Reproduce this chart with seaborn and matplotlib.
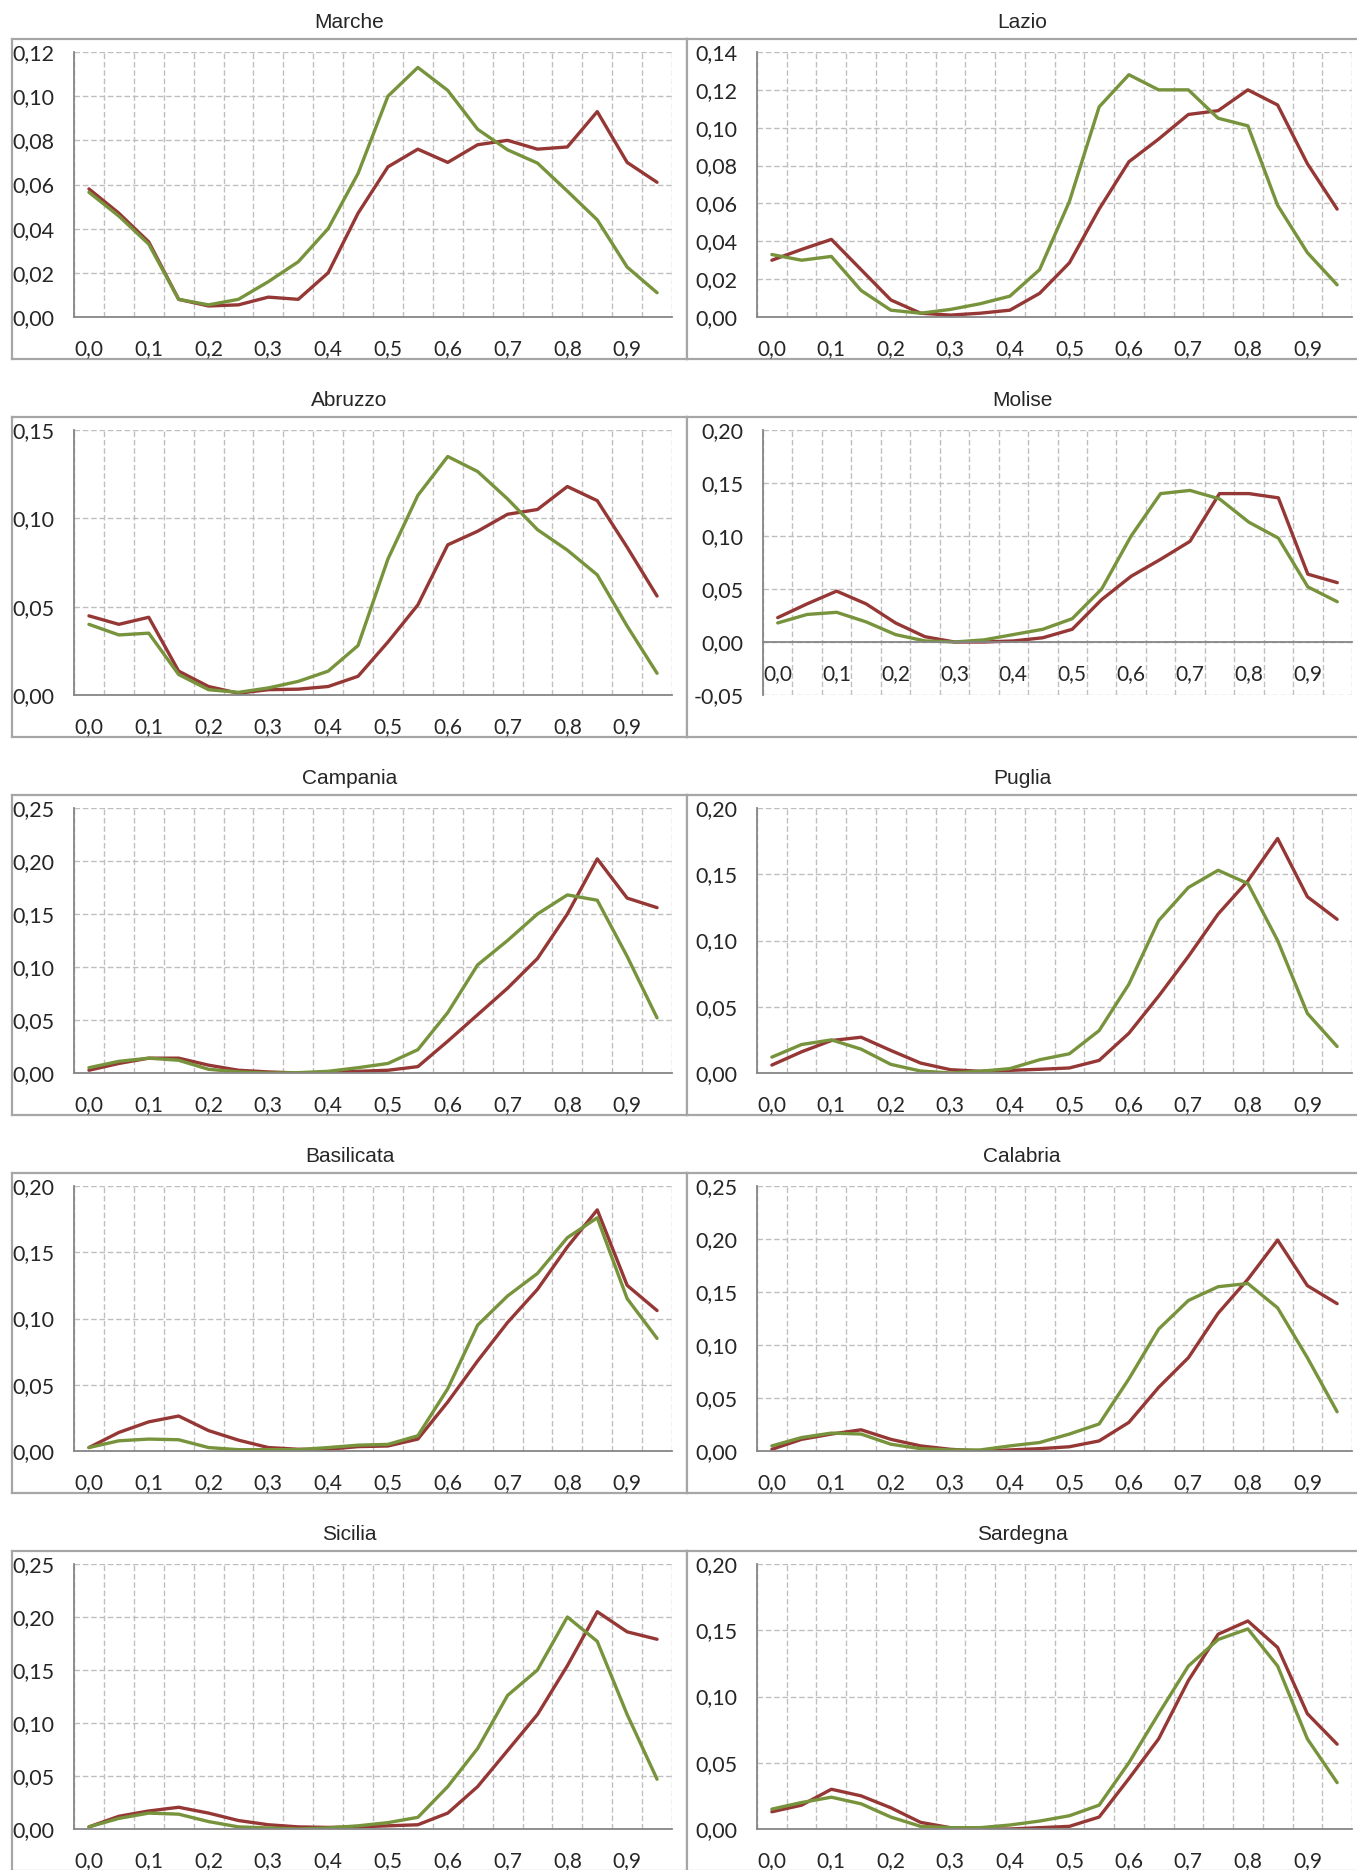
import pandas as pd
import seaborn as sns
import matplotlib
matplotlib.use('Agg')
import matplotlib.pyplot as plt

# categories on the x axis (step 0,05) and the labels shown every other one
x_vals = [0.00, 0.05, 0.10, 0.15, 0.20, 0.25, 0.30, 0.35, 0.40, 0.45,
          0.50, 0.55, 0.60, 0.65, 0.70, 0.75, 0.80, 0.85, 0.90, 0.95]
x_ticks = [0.0, 0.1, 0.2, 0.3, 0.4, 0.5, 0.6, 0.7, 0.8, 0.9]
x_labels = ['0,0', '0,1', '0,2', '0,3', '0,4', '0,5', '0,6', '0,7', '0,8', '0,9']

# series (red = first series, green = second)
marche_red = [0.058, 0.047, 0.034, 0.008, 0.005, 0.0055, 0.009, 0.008, 0.020, 0.047,
              0.068, 0.076, 0.070, 0.078, 0.080, 0.076, 0.077, 0.093, 0.070, 0.061]
marche_green = [0.0565, 0.0457, 0.033, 0.008, 0.0055, 0.008, 0.016, 0.025, 0.040, 0.065,
                0.100, 0.113, 0.1026, 0.085, 0.0757, 0.0697, 0.057, 0.044, 0.0226, 0.011]
lazio_red = [0.030, 0.0357, 0.041, 0.025, 0.009, 0.002, 0.001, 0.002, 0.0036, 0.0125,
             0.0286, 0.057, 0.082, 0.094, 0.107, 0.109, 0.120, 0.112, 0.081, 0.057]
lazio_green = [0.033, 0.030, 0.032, 0.014, 0.0036, 0.002, 0.004, 0.007, 0.011, 0.025,
               0.061, 0.111, 0.128, 0.120, 0.120, 0.105, 0.101, 0.059, 0.034, 0.017]
abruzzo_red = [0.0448, 0.040, 0.044, 0.0135, 0.0048, 0.001, 0.003, 0.0033, 0.0048, 0.0106,
               0.030, 0.051, 0.085, 0.0927, 0.1023, 0.105, 0.118, 0.110, 0.0836, 0.056]
abruzzo_green = [0.040, 0.034, 0.035, 0.0116, 0.003, 0.0015, 0.004, 0.0077, 0.0135, 0.028,
                 0.077, 0.113, 0.135, 0.1265, 0.111, 0.0936, 0.082, 0.068, 0.039, 0.0123]
molise_red = [0.023, 0.036, 0.048, 0.036, 0.018, 0.005, 0.000, 0.000, 0.001, 0.004,
              0.012, 0.040, 0.062, 0.078, 0.095, 0.140, 0.140, 0.136, 0.064, 0.056]
molise_green = [0.018, 0.026, 0.028, 0.019, 0.007, 0.001, 0.000, 0.002, 0.007, 0.012,
                0.022, 0.050, 0.100, 0.140, 0.143, 0.135, 0.113, 0.098, 0.052, 0.038]
campania_red = [0.0026, 0.009, 0.014, 0.014, 0.0074, 0.0026, 0.001, 0.000, 0.0006, 0.0016,
                0.0026, 0.006, 0.030, 0.055, 0.080, 0.108, 0.150, 0.202, 0.165, 0.156]
campania_green = [0.005, 0.011, 0.014, 0.012, 0.0035, 0.001, 0.000, 0.0003, 0.0016, 0.005,
                  0.009, 0.022, 0.057, 0.102, 0.125, 0.150, 0.168, 0.163, 0.110, 0.052]
puglia_red = [0.006, 0.016, 0.0245, 0.027, 0.017, 0.0075, 0.0025, 0.0013, 0.002, 0.0028,
              0.0038, 0.0095, 0.030, 0.058, 0.088, 0.120, 0.145, 0.177, 0.133, 0.116]
puglia_green = [0.012, 0.0215, 0.025, 0.018, 0.0065, 0.0015, 0.000, 0.0013, 0.0033, 0.010,
                0.0145, 0.032, 0.067, 0.115, 0.140, 0.153, 0.143, 0.100, 0.045, 0.020]
basilicata_red = [0.0026, 0.014, 0.022, 0.0264, 0.0154, 0.0082, 0.0026, 0.0013, 0.0013, 0.0033,
                  0.0038, 0.009, 0.037, 0.068, 0.097, 0.122, 0.154, 0.182, 0.125, 0.106]
basilicata_green = [0.0026, 0.0077, 0.009, 0.0085, 0.0026, 0.001, 0.001, 0.001, 0.0026, 0.0044,
                    0.005, 0.0115, 0.047, 0.095, 0.117, 0.134, 0.161, 0.176, 0.115, 0.085]
calabria_red = [0.0016, 0.011, 0.016, 0.020, 0.011, 0.0048, 0.0016, 0.000, 0.001, 0.0022,
                0.004, 0.0095, 0.027, 0.060, 0.088, 0.130, 0.162, 0.199, 0.156, 0.139]
calabria_green = [0.0048, 0.0127, 0.0169, 0.016, 0.0064, 0.0022, 0.001, 0.001, 0.0048, 0.008,
                  0.016, 0.0255, 0.068, 0.115, 0.142, 0.155, 0.158, 0.135, 0.088, 0.037]
sicilia_red = [0.002, 0.012, 0.017, 0.0205, 0.015, 0.008, 0.004, 0.002, 0.0015, 0.002,
               0.003, 0.004, 0.015, 0.040, 0.074, 0.108, 0.154, 0.205, 0.186, 0.179]
sicilia_green = [0.002, 0.010, 0.015, 0.014, 0.007, 0.002, 0.001, 0.000, 0.001, 0.003,
                 0.006, 0.011, 0.040, 0.076, 0.126, 0.150, 0.200, 0.177, 0.108, 0.047]
sardegna_red = [0.013, 0.018, 0.030, 0.025, 0.016, 0.005, 0.001, 0.000, 0.000, 0.001,
                0.002, 0.009, 0.038, 0.068, 0.112, 0.147, 0.157, 0.137, 0.087, 0.064]
sardegna_green = [0.015, 0.020, 0.024, 0.019, 0.009, 0.002, 0.001, 0.001, 0.003, 0.006,
                  0.010, 0.018, 0.050, 0.087, 0.123, 0.143, 0.151, 0.123, 0.068, 0.035]

# y ticks per panel
ticks_012 = [0.00, 0.02, 0.04, 0.06, 0.08, 0.10, 0.12]
ticks_014 = [0.00, 0.02, 0.04, 0.06, 0.08, 0.10, 0.12, 0.14]
ticks_015 = [0.00, 0.05, 0.10, 0.15]
ticks_molise = [-0.05, 0.00, 0.05, 0.10, 0.15, 0.20]
ticks_020 = [0.00, 0.05, 0.10, 0.15, 0.20]
ticks_025 = [0.00, 0.05, 0.10, 0.15, 0.20, 0.25]

panels = [
    ('Marche', marche_red, marche_green, ticks_012),
    ('Lazio', lazio_red, lazio_green, ticks_014),
    ('Abruzzo', abruzzo_red, abruzzo_green, ticks_015),
    ('Molise', molise_red, molise_green, ticks_molise),
    ('Campania', campania_red, campania_green, ticks_025),
    ('Puglia', puglia_red, puglia_green, ticks_020),
    ('Basilicata', basilicata_red, basilicata_green, ticks_020),
    ('Calabria', calabria_red, calabria_green, ticks_025),
    ('Sicilia', sicilia_red, sicilia_green, ticks_025),
    ('Sardegna', sardegna_red, sardegna_green, ticks_020),
]

RED = '#953735'
GREEN = '#77933C'
GRID = '#BFBFBF'
AXIS = '#868686'
FRAME = '#A6A6A6'

sns.set_theme(style='white')
plt.rcParams['font.family'] = ['Lato', 'DejaVu Sans']

W, H = 1357, 1870
fig = plt.figure(figsize=(W / 100, H / 100), dpi=100)

for i, (name, red_vals, green_vals, yticks) in enumerate(panels):
    r, c = divmod(i, 2)
    top = 39 + 378 * r

    # chart frame
    bx0, bx1 = (12, 687) if c == 0 else (687, 1370)
    bg = fig.add_axes([bx0 / W, 1 - (top + 320) / H, (bx1 - bx0) / W, 320 / H], zorder=0)
    bg.set_xticks([])
    bg.set_yticks([])
    for s in bg.spines.values():
        s.set_color(FRAME)
        s.set_linewidth(1.6)
        s.set_visible(True)

    fig.text((12 + 687) / 2 / W if c == 0 else 1022 / W, 1 - (top - 16) / H, name,
             ha='center', va='center', fontsize=15,
             family=['Liberation Sans Narrow', 'Liberation Sans', 'DejaVu Sans'])

    # plot area
    if c == 0:
        px0, px1 = 74, 672
    else:
        px0, px1 = (763 if name == 'Molise' else 757), 1352
    ax = fig.add_axes([px0 / W, 1 - (top + 278) / H, (px1 - px0) / W, 265 / H], zorder=1)
    ax.patch.set_alpha(0)

    df = pd.DataFrame({'x': x_vals * 2,
                       'y': red_vals + green_vals,
                       'serie': ['a'] * len(x_vals) + ['b'] * len(x_vals)})
    sns.lineplot(data=df, x='x', y='y', hue='serie', palette=[RED, GREEN],
                 ax=ax, linewidth=2.4, legend=False)
    for ln in ax.get_lines():
        ln.set_solid_joinstyle('round')
        ln.set_solid_capstyle('round')

    ax.set_xlim(-0.025, 0.975)
    ax.set_ylim(yticks[0], yticks[-1])
    ax.set_xlabel('')
    ax.set_ylabel('')

    ax.set_xticks(x_ticks)
    ax.set_xticklabels(x_labels)
    ax.set_xticks([-0.025 + 0.05 * k for k in range(21)], minor=True)
    ax.set_yticks(yticks)
    ax.set_yticklabels([f'{v:.2f}'.replace('.', ',') for v in yticks])
    ax.tick_params(axis='x', which='both', length=0, labelsize=15, pad=16)
    ax.tick_params(axis='y', length=0, labelsize=15.5, pad=14)

    ax.set_axisbelow(True)
    ax.grid(False)
    ax.grid(True, which='minor', axis='x', color=GRID, linestyle=(0, (4, 2)), linewidth=1.0)
    ax.grid(True, which='major', axis='y', color=GRID, linestyle=(0, (4, 2)), linewidth=1.0)

    for side in ['top', 'right']:
        ax.spines[side].set_visible(False)
    for side in ['left', 'bottom']:
        ax.spines[side].set_color(AXIS)
        ax.spines[side].set_linewidth(1.3)
    if yticks[0] < 0:
        ax.spines['bottom'].set_position(('data', 0))

fig.savefig('out.png', dpi=100)
